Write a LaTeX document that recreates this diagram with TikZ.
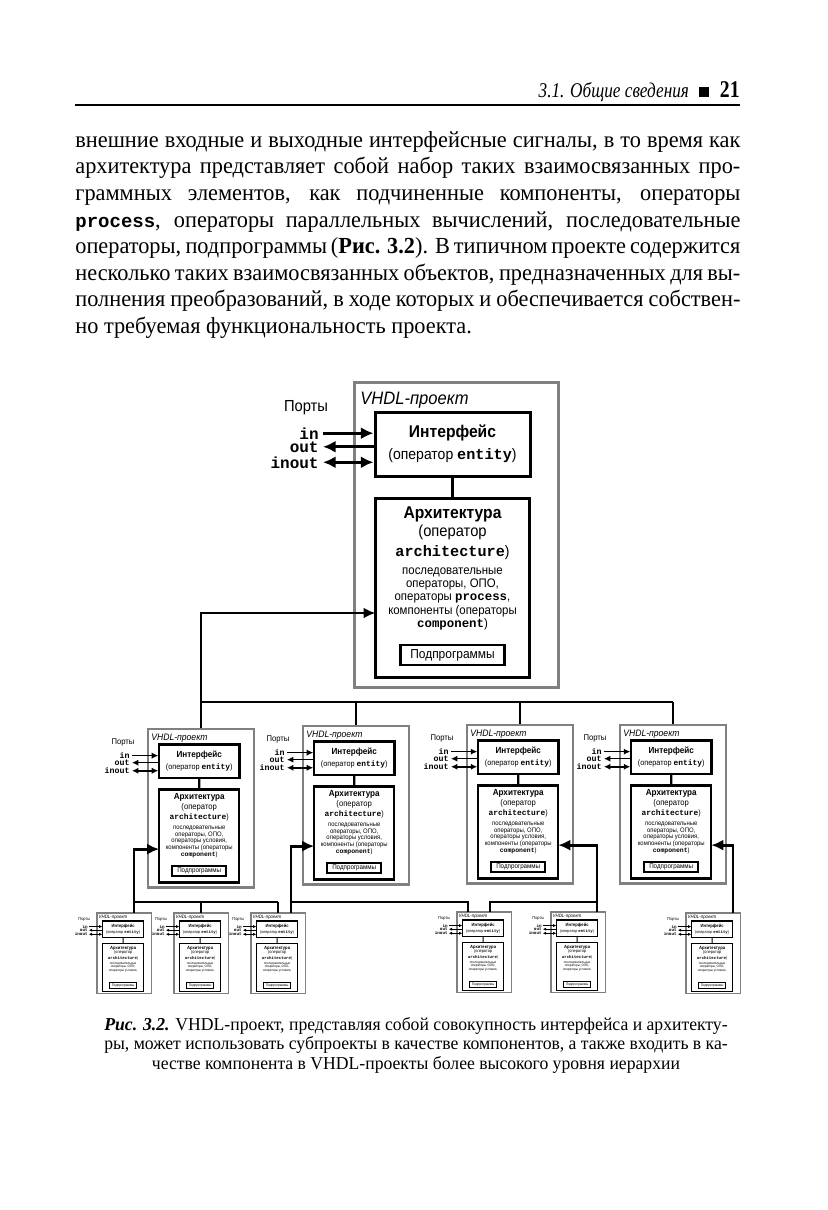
\documentclass[tikz,border=0pt]{standalone}
\usepackage{fontspec}
\setmainfont{Liberation Serif}[FakeStretch=0.97]
\setsansfont{Liberation Sans}
\setmonofont{Liberation Mono}
\newfontfamily\diagfont{Liberation Sans}[FakeStretch=0.92]
\newfontfamily\headfont{Liberation Serif}[FakeStretch=0.82]
\usetikzlibrary{arrows.meta,positioning}

\definecolor{framegray}{gray}{0.5}
\newcommand{\kw}[1]{{\ttfamily\bfseries #1}}
\newcommand{\jline}[1]{\makebox[332.5pt][s]{#1}}

\tikzset{
  projframe/.style={draw=framegray,minimum width=102pt,minimum height=152.5pt,inner sep=0pt},
  unitbox/.style={draw,inner sep=0pt,align=center},
  projtitle/.style={anchor=west,inner sep=0pt,font=\diagfont\itshape\fontsize{9}{10}\selectfont},
  enttext/.style={font=\diagfont\fontsize{7.6}{10}\selectfont},
  archtitle/.style={inner sep=0pt,font=\diagfont\bfseries\fontsize{8.5}{10}\selectfont},
  archtext/.style={inner sep=0pt,font=\diagfont\fontsize{8}{9.5}\selectfont},
  archlist/.style={anchor=north,inner sep=0pt,align=center,font=\diagfont\fontsize{6.2}{6.6}\selectfont},
  subtext/.style={font=\diagfont\fontsize{6.5}{7}\selectfont},
  porttext/.style={inner sep=1pt,font=\diagfont\fontsize{8}{9}\selectfont},
  portname/.style={anchor=base east,inner sep=0pt,font=\ttfamily\bfseries\fontsize{8}{9}\selectfont},
  portin/.style={-{Latex[length=0pt 4.2,width=0pt 4]}},
  portout/.style={{Latex[length=0pt 4.2,width=0pt 4]}-},
  portio/.style={{Latex[length=0pt 4.2,width=0pt 4]}-{Latex[length=0pt 4.2,width=0pt 4]}},
  link/.style={line width=1.4pt},
  bodytext/.style={anchor=north west,inner sep=0pt,align=left,font=\fontsize{11.5}{13.3}\selectfont},
  captext/.style={anchor=north,inner sep=0pt,align=center,font=\fontsize{9.1}{9.75}\selectfont}
}

% one VHDL project: name, x, y, scale, frame width, list of statements
\newcommand{\vhdlproj}[6]{%
  \begin{scope}[shift={(#2,#3)},scale=#4,transform shape]
    \node[projframe,line width=#5] (#1) at (102,152.5) {};
    \node[projtitle] (#1-ttl) at (6,18) {VHDL-проект};
    \node[unitbox,enttext,line width=#5,minimum width=77.5pt,minimum height=32pt] (#1-ent) at (98.5,62)
      {{\bfseries\fontsize{8.5}{10}\selectfont Интерфейс}\\[1pt](оператор \kw{entity})};
    \node[unitbox,line width=#5,minimum width=77pt,minimum height=89.5pt] (#1-arch) at (98.5,205.5) {};
    \node[archtitle] (#1-at) at (98.5,132) {Архитектура};
    \node[archtext]  (#1-ao) at (98.5,150) {(оператор};
    \node[archtext]  (#1-ak) at (98.5,171) {\fontsize{7.6}{9}\selectfont\kw{architecture})};
    \node[archlist]  (#1-al) at (98.5,185.5) {#6};
    \node[unitbox,subtext,line width=0.8*#5,minimum width=52pt,minimum height=10pt] (#1-sub) at (98.5,273) {Подпрограммы};
    \draw[line width=#5] (#1-ent) -- (#1-arch);
    \coordinate (#1-cin)  at (21.5,231);
    \coordinate (#1-cout) at (175.5,231);
    % ports
    \node[porttext] (#1-prt)   at (-48,26) {Порты};
    \node[portname] (#1-in)    at (-35,57) {in};
    \node[portname] (#1-out)   at (-35,70) {out};
    \node[portname] (#1-inout) at (-35,86) {inout};
    \draw[portin,line width=#4*1.5pt]  ([xshift=2pt]#1-in.east)    -- (#1-in -| #1-ent.west);
    \draw[portout,line width=#4*1.5pt] ([xshift=2pt]#1-out.east)   -- (#1-out -| #1-ent.west);
    \draw[portio,line width=#4*1.5pt]  ([xshift=2pt]#1-inout.east) -- (#1-inout -| #1-ent.west);
  \end{scope}}

\begin{document}
\begin{tikzpicture}[x=0.5pt,y=-0.5pt]
  \useasboundingbox[fill=white] (0,0) rectangle (827,1210);

  % running head and text
  \node[anchor=base east,inner sep=0pt,font=\headfont\fontsize{10.5}{12}\selectfont] (head) at (740,97)
    {{\itshape 3.1. Общие сведения}\enspace\rule{5pt}{5pt}\enspace{\bfseries\fontsize{12}{12}\selectfont 21}};
  \draw[line width=1.2pt] (75,105) -- (740,105);
  \node[bodytext] (body) at (75,131) {%
    \jline{внешние входные и выходные интерфейсные сигналы, в то время как}\\
    \jline{архитектура представляет собой набор таких взаимосвязанных про-}\\
    \jline{граммных элементов, как подчиненные компоненты, операторы}\\
    \jline{{\ttfamily\bfseries\fontsize{9.5}{13.3}\selectfont process}, операторы параллельных вычислений, последовательные}\\
    \jline{операторы, подпрограммы ({\bfseries Рис. 3.2}). В типичном проекте содержится}\\
    \jline{несколько таких взаимосвязанных объектов, предназначенных для вы-}\\
    \jline{полнения преобразований, в ходе которых и обеспечивается собствен-}\\
    но требуемая функциональность проекта.};

  % projects
  \vhdlproj{top}{354}{382}{1}{1.5pt}{последовательные\\операторы, ОПО,\\операторы \kw{process},\\компоненты (операторы\\\kw{component})}
  \foreach \name/\x/\y in {m1/148/729, m2/303/726, m3/467/725, m4/620/725}{
    \vhdlproj{\name}{\x}{\y}{0.52}{1.2pt}{последовательные\\операторы, ОПО,\\операторы условия,\\компоненты (операторы\\\kw{component})}
  }
  \foreach \name/\x/\y in {s1/97/913, s2/174/913, s3/251/913, s4/457/912, s5/551/912, s6/686/913}{
    \vhdlproj{\name}{\x}{\y}{0.265}{0.55pt}{последовательные\\операторы, ОПО,\\операторы условия,}
  }

  % components of the top architecture
  \coordinate (bus)  at (0,702);
  \coordinate (sbus) at (0,902);
  \draw[link,-{Latex[length=6pt,width=5.5pt]}] (m1.north) |- (top-cin);
  \draw[link] (m1.north |- bus) -- (m4.north |- bus);
  \foreach \m in {m2,m3,m4}
    \draw[link] (\m.north) -- (\m.north |- bus);

  % components of the second level
  \coordinate (f1) at ([xshift=5pt]s1.north);
  \coordinate (f2) at ([xshift=6.5pt]s3.north);
  \coordinate (f3) at ([xshift=-8pt]s4.north);
  \coordinate (f4) at ([xshift=3pt]s4.north);
  \coordinate (f5) at ([xshift=9.5pt]s5.north);
  \coordinate (f6) at ([xshift=10pt]s6.north);
  \draw[link,-{Latex[length=6pt,width=5.5pt]}] (f1) |- (m1-cin);
  \draw[link] (f1 |- sbus) -- (s3.north |- sbus);
  \draw[link] (s2.north) -- (s2.north |- sbus);
  \draw[link] (s3.north) -- (s3.north |- sbus);
  \draw[link,-{Latex[length=6pt,width=5.5pt]}] (f2) |- (m2-cin);
  \draw[link] (f2 |- sbus) -- (f3 |- sbus) -- (f3);
  \draw[link,-{Latex[length=6pt,width=5.5pt]}] (f5) |- (m3-cout);
  \draw[link] (f4) -- (f4 |- sbus) -- (f5 |- sbus);
  \draw[link,-{Latex[length=6pt,width=5.5pt]}] (f6) |- (m4-cout);

  % caption
  \node[captext] (cap) at (416,1017) {{\bfseries\itshape Рис. 3.2.} VHDL-проект, представляя собой совокупность интерфейса и архитекту-\\
    ры, может использовать субпроекты в качестве компонентов, а также входить в ка-\\
    честве компонента в VHDL-проекты более высокого уровня иерархии};
\end{tikzpicture}
\end{document}
